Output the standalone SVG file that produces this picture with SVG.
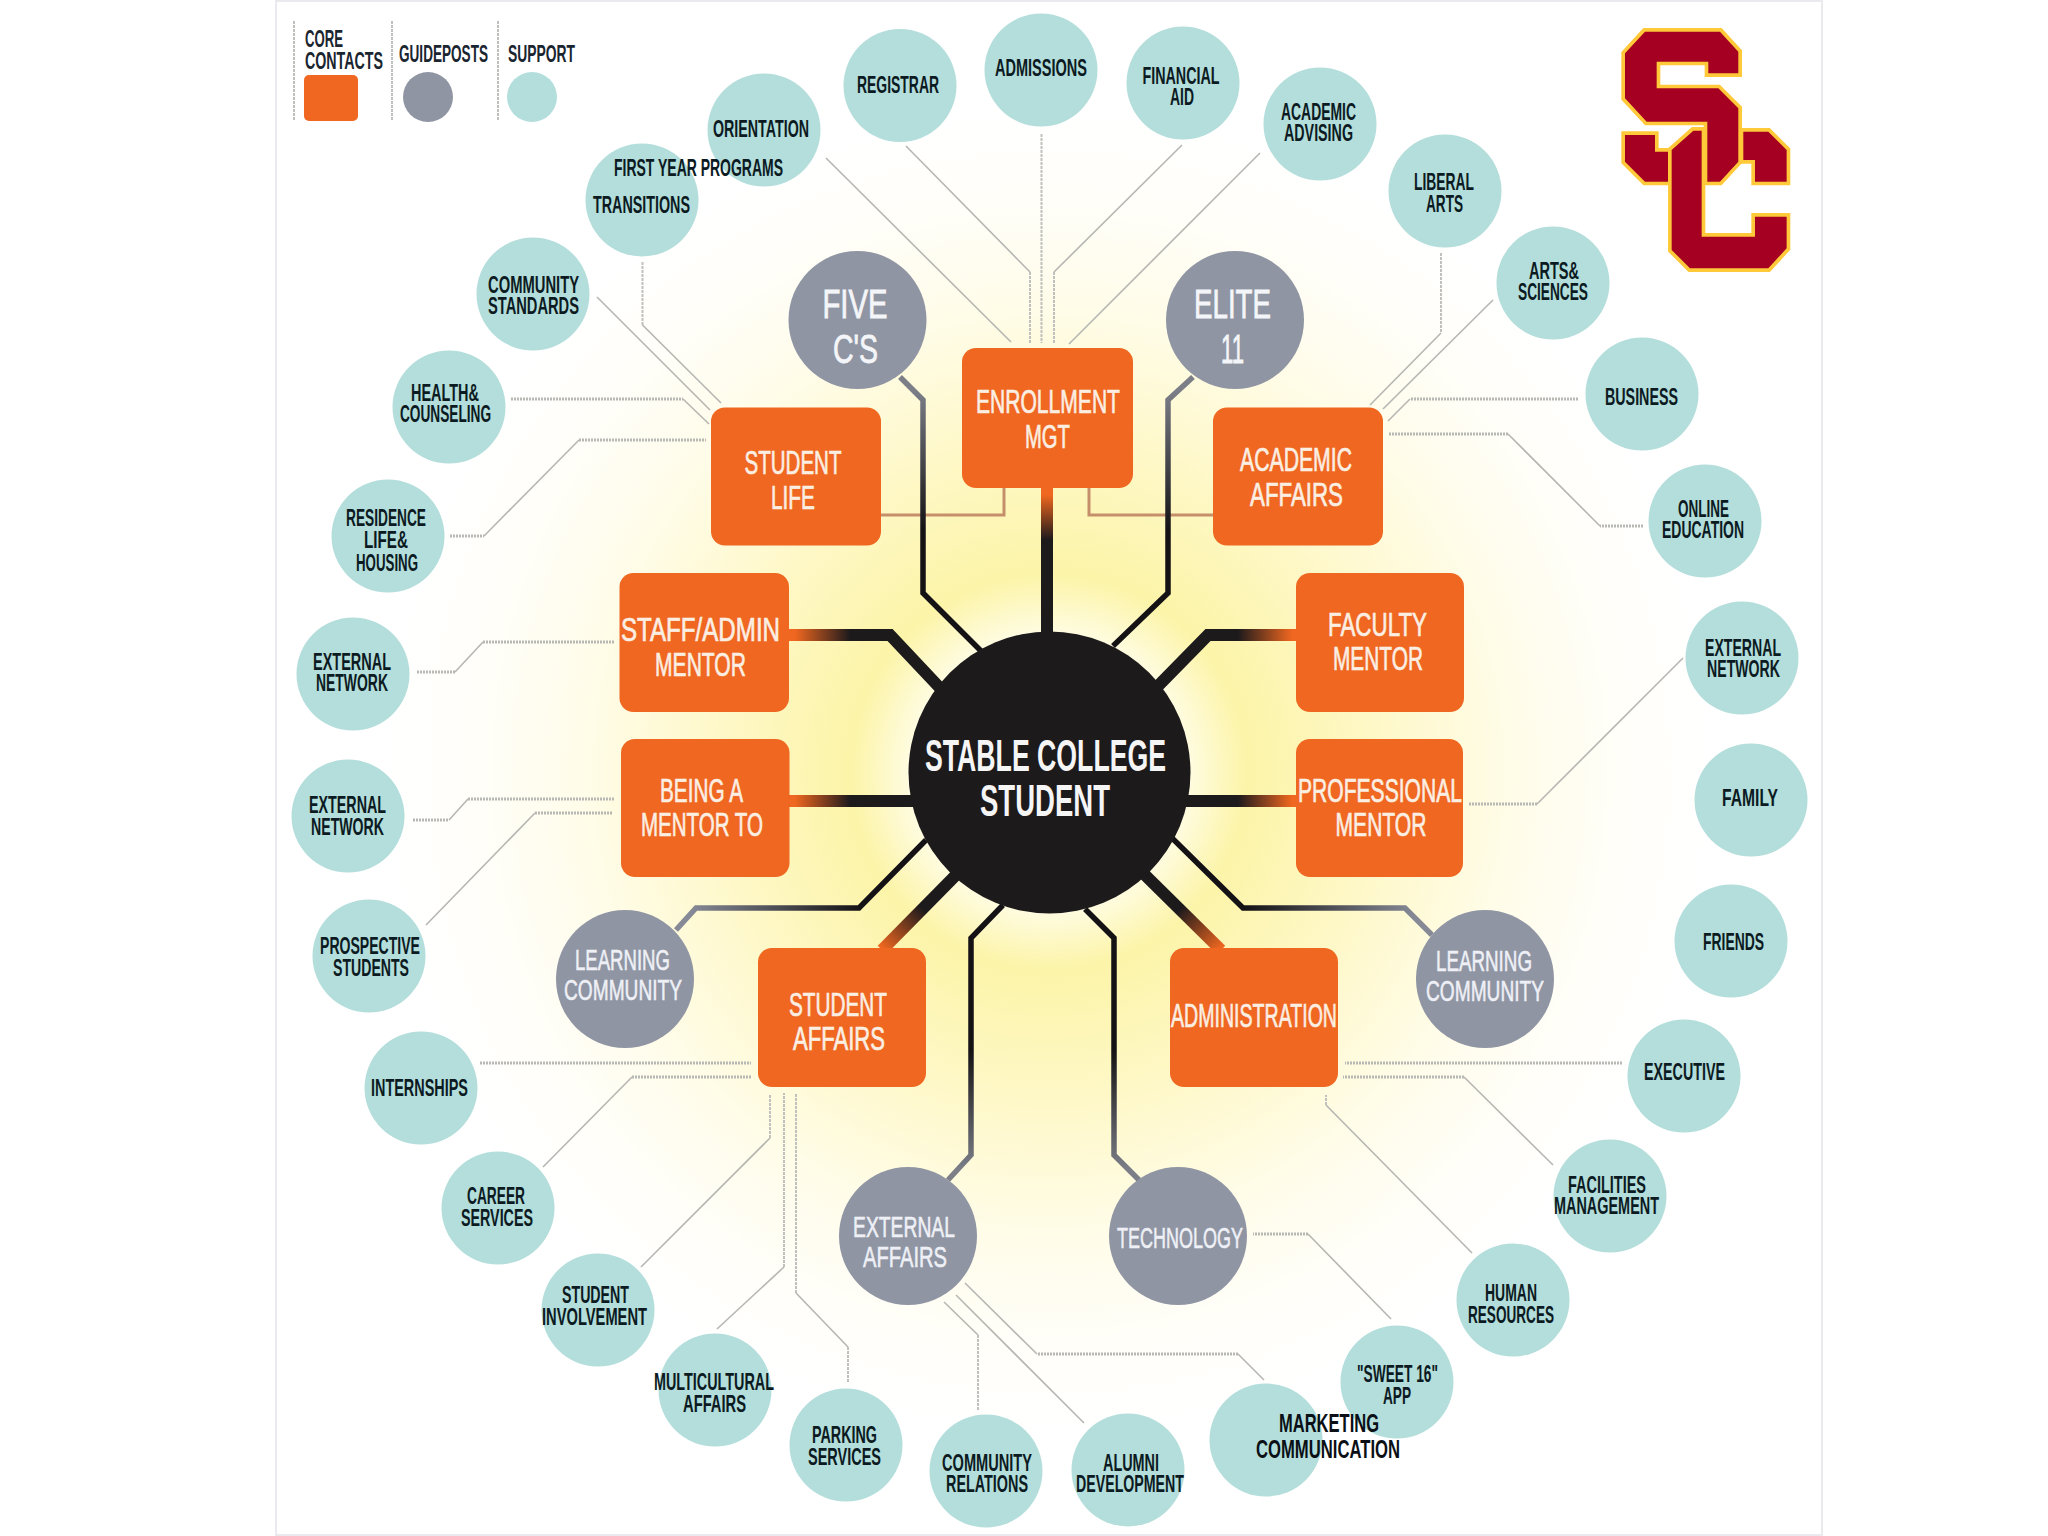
<svg xmlns="http://www.w3.org/2000/svg" width="2048" height="1536" viewBox="0 0 2048 1536">
<style>
text{font-family:"Liberation Sans Narrow","Liberation Sans",Arial,sans-serif;font-weight:700;text-anchor:middle}
.sup{fill:#b3dedb}
.gd{fill:#8f95a3}
.core{fill:#ef6720}
.tt{font-size:23px;fill:#0c1a22}
.tm{font-size:25px;fill:#0a1016}
.tl{font-size:23px;fill:#1a2530;text-anchor:start}
.to{font-size:33px;fill:#fbeee2;font-weight:400;stroke:#fbeee2;stroke-width:.7}
.tg{font-size:30px;fill:#eef0f6;font-weight:400;stroke:#eef0f6;stroke-width:.6}
.tb{font-size:40px;fill:#f4f5f8;font-weight:400;stroke:#f4f5f8;stroke-width:.8}
.tc{font-size:45px;fill:#f5f5f5}
.d{fill:none;stroke:#b6b6b2;stroke-width:1.6;stroke-linejoin:round}
.h{fill:none;stroke:#b8b8b4;stroke-width:3;stroke-dasharray:2 1}
.v{fill:none;stroke:#c0c0bc;stroke-width:2;stroke-dasharray:3 1}
.br{fill:none;stroke:#c58f6c;stroke-width:3}
.w{fill:none;stroke-width:12;stroke-linejoin:miter}
.n{fill:none;stroke-width:5.5;stroke-linejoin:miter}
.logo polygon{fill:#a50021;stroke:#ffc93a;stroke-width:22;paint-order:stroke;stroke-linejoin:miter}
</style>
<defs>
<radialGradient id="glow" gradientUnits="userSpaceOnUse" cx="1049" cy="772" r="660">
<stop offset="0.2" stop-color="#fffde8"/><stop offset="0.3" stop-color="#fcf4a8"/><stop offset="0.5" stop-color="#fef8c8"/><stop offset="0.7" stop-color="#fffce8"/><stop offset="0.86" stop-color="#fffef8"/><stop offset="1" stop-color="#ffffff"/>
</radialGradient>
<linearGradient id="g-en" gradientUnits="userSpaceOnUse" x1="0" y1="495" x2="0" y2="540"><stop offset="0" stop-color="#ef6720"/><stop offset="1" stop-color="#1d1a1c"/></linearGradient>
<linearGradient id="g-l" gradientUnits="userSpaceOnUse" x1="795" y1="0" x2="850" y2="0"><stop offset="0" stop-color="#ef6720"/><stop offset="1" stop-color="#1d1a1c"/></linearGradient>
<linearGradient id="g-r" gradientUnits="userSpaceOnUse" x1="1292" y1="0" x2="1238" y2="0"><stop offset="0" stop-color="#ef6720"/><stop offset="1" stop-color="#1d1a1c"/></linearGradient>
<linearGradient id="g-sa" gradientUnits="userSpaceOnUse" x1="882" y1="948" x2="922" y2="908"><stop offset="0" stop-color="#ef6720"/><stop offset="1" stop-color="#1d1a1c"/></linearGradient>
<linearGradient id="g-ad" gradientUnits="userSpaceOnUse" x1="1221" y1="948" x2="1181" y2="908"><stop offset="0" stop-color="#ef6720"/><stop offset="1" stop-color="#1d1a1c"/></linearGradient>
<linearGradient id="g-top" gradientUnits="userSpaceOnUse" x1="0" y1="390" x2="0" y2="530"><stop offset="0" stop-color="#7c7f88"/><stop offset="1" stop-color="#141214"/></linearGradient>
<linearGradient id="g-ll" gradientUnits="userSpaceOnUse" x1="690" y1="0" x2="860" y2="0"><stop offset="0" stop-color="#868a96"/><stop offset="1" stop-color="#141214"/></linearGradient>
<linearGradient id="g-lr" gradientUnits="userSpaceOnUse" x1="1415" y1="0" x2="1245" y2="0"><stop offset="0" stop-color="#868a96"/><stop offset="1" stop-color="#141214"/></linearGradient>
<linearGradient id="g-bt" gradientUnits="userSpaceOnUse" x1="0" y1="1170" x2="0" y2="1050"><stop offset="0" stop-color="#7c7f88"/><stop offset="1" stop-color="#141214"/></linearGradient>
</defs>
<rect width="2048" height="1536" fill="#fff"/>
<rect x="276" y="1" width="1546" height="1534" fill="url(#glow)" stroke="#e9e9ee" stroke-width="2"/>

<g id="connectors">
<path class="d" d="M826 158L1011 342"/>
<path class="d" d="M906 146L1030 272"/><path class="v" d="M1030 272V343"/>
<path class="v" d="M1041.500 134V343"/>
<path class="d" d="M1182 145L1054 272"/><path class="v" d="M1054 272V343"/>
<path class="d" d="M1260 153L1069 344"/>
<path class="v" d="M1441 253V333"/><path class="d" d="M1441 333L1370 405"/>
<path class="d" d="M1493 300L1383 409"/>
<path class="h" d="M1578 399H1410"/><path class="d" d="M1410 399L1388 421"/>
<path class="h" d="M1643 526H1600"/><path class="d" d="M1600 526L1508 434"/><path class="h" d="M1508 434H1388"/>
<path class="d" d="M1683 658L1537 804"/><path class="h" d="M1537 804H1468"/>
<path class="h" d="M1622 1063H1345"/>
<path class="d" d="M1553 1165L1464 1077"/><path class="h" d="M1464 1077H1343"/>
<path class="d" d="M1472 1253L1326 1105"/><path class="v" d="M1326 1105V1095"/>
<path class="d" d="M1391 1319L1308 1234"/><path class="h" d="M1308 1234H1253"/>
<path class="d" d="M1264 1380L1238 1354"/><path class="h" d="M1238 1354H1037"/><path class="d" d="M1037 1354L965 1283"/>
<path class="d" d="M1084 1423L956 1295"/>
<path class="v" d="M978 1410V1335"/><path class="d" d="M978 1335L944 1302"/>
<path class="v" d="M848 1382V1347"/><path class="d" d="M848 1347L796 1293"/><path class="v" d="M796 1293V1093"/>
<path class="d" d="M717 1329L784 1267"/><path class="v" d="M784 1267V1093"/>
<path class="d" d="M641 1267L770 1138"/><path class="v" d="M770 1138V1095"/>
<path class="d" d="M543 1167L632 1077"/><path class="h" d="M632 1077H751"/>
<path class="h" d="M480 1063H751"/>
<path class="d" d="M426 925L535 813"/><path class="h" d="M535 813H612"/>
<path class="h" d="M413 820H449"/><path class="d" d="M449 820L468 799"/><path class="h" d="M468 799H614"/>
<path class="h" d="M417 672H455"/><path class="d" d="M455 672L483 642"/><path class="h" d="M483 642H614"/>
<path class="h" d="M450 536H484"/><path class="d" d="M484 536L579 440"/><path class="h" d="M579 440H706"/>
<path class="h" d="M511 399H683"/><path class="d" d="M683 399L709 424"/>
<path class="d" d="M597 297L710 410"/>
<path class="v" d="M642.500 262V325"/><path class="d" d="M642.500 325L721 403"/>
<path class="br" d="M881 515H1004V488"/>
<path class="br" d="M1213 515H1089V488"/>
<path class="w" stroke="url(#g-en)" d="M1047 488V640"/>
<path class="w" stroke="url(#g-l)" d="M789 635H890L940 688"/>
<path class="w" stroke="url(#g-l)" d="M789 801H915"/>
<path class="w" stroke="url(#g-r)" d="M1296 635H1208L1158 686"/>
<path class="w" stroke="url(#g-r)" d="M1296 801H1185"/>
<path class="w" stroke="url(#g-sa)" d="M882 950L956 875"/>
<path class="w" stroke="url(#g-ad)" d="M1221 950L1145 875"/>
<path class="n" stroke="url(#g-top)" d="M900 377L923 400V593L982 652"/>
<path class="n" stroke="url(#g-top)" d="M1193 377L1168 400V593L1113 646"/>
<path class="n" stroke="url(#g-ll)" d="M676 930L696 908H859L926 840"/>
<path class="n" stroke="url(#g-lr)" d="M1432 935L1405 908H1243L1172 838"/>
<path class="n" stroke="url(#g-bt)" d="M948 1180L971 1155V938L1003 905"/>
<path class="n" stroke="url(#g-bt)" d="M1139 1180L1114 1155V938L1085 909"/>
</g>

<g id="legend">
<path class="v" d="M294 21V120M392 21V120M498 21V120"/>
<text class="tl" x="305" y="47" textLength="38" lengthAdjust="spacingAndGlyphs">CORE</text>
<text class="tl" x="305" y="69" textLength="78" lengthAdjust="spacingAndGlyphs">CONTACTS</text>
<text class="tl" x="399" y="62" textLength="89" lengthAdjust="spacingAndGlyphs">GUIDEPOSTS</text>
<text class="tl" x="508" y="62" textLength="67" lengthAdjust="spacingAndGlyphs">SUPPORT</text>
<rect class="core" x="304" y="75" width="54" height="46" rx="5"/>
<circle class="gd" cx="428" cy="97" r="25"/>
<circle class="sup" cx="532" cy="97" r="25"/>
</g>

<g id="logo" class="logo" transform="translate(1600 10) scale(.3333)">
<polygon points="75,375 165,375 165,425 205,425 205,515 135,515 75,455"/>
<polygon points="430,365 505,365 560,420 560,515 465,515 465,450 430,450"/>
<polygon points="135,65 360,65 415,125 415,190 325,190 325,155 170,155 170,235 355,235 415,295 415,455 360,515 322,515 322,335 140,335 75,265 75,130"/>
<polygon points="280,362 305,362 305,680 465,680 465,620 560,620 560,715 505,775 270,775 215,720 215,420"/>
</g>

<g id="n-transitions"><circle class="sup" cx="642" cy="200" r="56.500"/></g>
<g id="n-orientation"><circle class="sup" cx="764" cy="130" r="56.500"/>
<text class="tt" x="761" y="137" textLength="96" lengthAdjust="spacingAndGlyphs">ORIENTATION</text></g>
<g id="n-transitions-label">
<text class="tt" x="698.500" y="176" textLength="169" lengthAdjust="spacingAndGlyphs">FIRST YEAR PROGRAMS</text>
<text class="tt" x="641.500" y="213" textLength="97" lengthAdjust="spacingAndGlyphs">TRANSITIONS</text></g>
<g id="n-registrar"><circle class="sup" cx="900" cy="85.500" r="56.500"/>
<text class="tt" x="898" y="93" textLength="82" lengthAdjust="spacingAndGlyphs">REGISTRAR</text></g>
<g id="n-admissions"><circle class="sup" cx="1041" cy="70" r="56.500"/>
<text class="tt" x="1041" y="76" textLength="92" lengthAdjust="spacingAndGlyphs">ADMISSIONS</text></g>
<g id="n-financial"><circle class="sup" cx="1183" cy="83" r="56.500"/>
<text class="tt" x="1181" y="84" textLength="77" lengthAdjust="spacingAndGlyphs">FINANCIAL</text>
<text class="tt" x="1182" y="105" textLength="24" lengthAdjust="spacingAndGlyphs">AID</text></g>
<g id="n-advising"><circle class="sup" cx="1320" cy="124" r="56.500"/>
<text class="tt" x="1318.500" y="120" textLength="75" lengthAdjust="spacingAndGlyphs">ACADEMIC</text>
<text class="tt" x="1318.500" y="141" textLength="69" lengthAdjust="spacingAndGlyphs">ADVISING</text></g>
<g id="n-liberal"><circle class="sup" cx="1445" cy="191" r="56.500"/>
<text class="tt" x="1444" y="190" textLength="60" lengthAdjust="spacingAndGlyphs">LIBERAL</text>
<text class="tt" x="1444.500" y="212" textLength="37" lengthAdjust="spacingAndGlyphs">ARTS</text></g>
<g id="n-arts"><circle class="sup" cx="1553" cy="283" r="56.500"/>
<text class="tt" x="1554" y="279" textLength="50" lengthAdjust="spacingAndGlyphs">ARTS&amp;</text>
<text class="tt" x="1553" y="300" textLength="70" lengthAdjust="spacingAndGlyphs">SCIENCES</text></g>
<g id="n-business"><circle class="sup" cx="1642" cy="394" r="56.500"/>
<text class="tt" x="1641.500" y="405" textLength="73" lengthAdjust="spacingAndGlyphs">BUSINESS</text></g>
<g id="n-online"><circle class="sup" cx="1705" cy="521" r="56.500"/>
<text class="tt" x="1703.500" y="517" textLength="51" lengthAdjust="spacingAndGlyphs">ONLINE</text>
<text class="tt" x="1703" y="538" textLength="82" lengthAdjust="spacingAndGlyphs">EDUCATION</text></g>
<g id="n-ext-right"><circle class="sup" cx="1742" cy="658" r="56.500"/>
<text class="tt" x="1743" y="656" textLength="76" lengthAdjust="spacingAndGlyphs">EXTERNAL</text>
<text class="tt" x="1743.500" y="677" textLength="73" lengthAdjust="spacingAndGlyphs">NETWORK</text></g>
<g id="n-family"><circle class="sup" cx="1751" cy="800" r="56.500"/>
<text class="tt" x="1750" y="806" textLength="56" lengthAdjust="spacingAndGlyphs">FAMILY</text></g>
<g id="n-friends"><circle class="sup" cx="1731" cy="941" r="56.500"/>
<text class="tt" x="1733.500" y="950" textLength="61" lengthAdjust="spacingAndGlyphs">FRIENDS</text></g>
<g id="n-executive"><circle class="sup" cx="1684" cy="1076" r="56.500"/>
<text class="tt" x="1684.500" y="1080" textLength="81" lengthAdjust="spacingAndGlyphs">EXECUTIVE</text></g>
<g id="n-facilities"><circle class="sup" cx="1610" cy="1196" r="56.500"/>
<text class="tt" x="1607" y="1193" textLength="78" lengthAdjust="spacingAndGlyphs">FACILITIES</text>
<text class="tt" x="1606.500" y="1214" textLength="105" lengthAdjust="spacingAndGlyphs">MANAGEMENT</text></g>
<g id="n-hr"><circle class="sup" cx="1513" cy="1300" r="56.500"/>
<text class="tt" x="1511" y="1301" textLength="52" lengthAdjust="spacingAndGlyphs">HUMAN</text>
<text class="tt" x="1511" y="1323" textLength="86" lengthAdjust="spacingAndGlyphs">RESOURCES</text></g>
<g id="n-sweet"><circle class="sup" cx="1397" cy="1382" r="56.500"/>
<text class="tt" x="1397.500" y="1382" textLength="81" lengthAdjust="spacingAndGlyphs">"SWEET 16"</text>
<text class="tt" x="1397" y="1404" textLength="28" lengthAdjust="spacingAndGlyphs">APP</text></g>
<g id="n-marketing"><circle class="sup" cx="1266" cy="1440" r="56.500"/>
<text class="tm" x="1329" y="1432" textLength="100" lengthAdjust="spacingAndGlyphs">MARKETING</text>
<text class="tm" x="1328" y="1458" textLength="144" lengthAdjust="spacingAndGlyphs">COMMUNICATION</text></g>
<g id="n-alumni"><circle class="sup" cx="1128" cy="1470" r="56.500"/>
<text class="tt" x="1131" y="1471" textLength="56" lengthAdjust="spacingAndGlyphs">ALUMNI</text>
<text class="tt" x="1130" y="1492" textLength="108" lengthAdjust="spacingAndGlyphs">DEVELOPMENT</text></g>
<g id="n-relations"><circle class="sup" cx="986" cy="1471" r="56.500"/>
<text class="tt" x="987" y="1471" textLength="90" lengthAdjust="spacingAndGlyphs">COMMUNITY</text>
<text class="tt" x="987" y="1492" textLength="82" lengthAdjust="spacingAndGlyphs">RELATIONS</text></g>
<g id="n-parking"><circle class="sup" cx="846" cy="1445" r="56.500"/>
<text class="tt" x="844.500" y="1443" textLength="65" lengthAdjust="spacingAndGlyphs">PARKING</text>
<text class="tt" x="844.500" y="1465" textLength="73" lengthAdjust="spacingAndGlyphs">SERVICES</text></g>
<g id="n-multicultural"><circle class="sup" cx="715" cy="1390" r="56.500"/>
<text class="tt" x="714" y="1390" textLength="120" lengthAdjust="spacingAndGlyphs">MULTICULTURAL</text>
<text class="tt" x="714.500" y="1412" textLength="63" lengthAdjust="spacingAndGlyphs">AFFAIRS</text></g>
<g id="n-involvement"><circle class="sup" cx="598" cy="1310" r="56.500"/>
<text class="tt" x="595.500" y="1303" textLength="67" lengthAdjust="spacingAndGlyphs">STUDENT</text>
<text class="tt" x="594.500" y="1325" textLength="105" lengthAdjust="spacingAndGlyphs">INVOLVEMENT</text></g>
<g id="n-career"><circle class="sup" cx="498" cy="1208" r="56.500"/>
<text class="tt" x="496" y="1204" textLength="58" lengthAdjust="spacingAndGlyphs">CAREER</text>
<text class="tt" x="497" y="1226" textLength="72" lengthAdjust="spacingAndGlyphs">SERVICES</text></g>
<g id="n-internships"><circle class="sup" cx="421" cy="1088" r="56.500"/>
<text class="tt" x="419.500" y="1096" textLength="97" lengthAdjust="spacingAndGlyphs">INTERNSHIPS</text></g>
<g id="n-prospective"><circle class="sup" cx="369" cy="956" r="56.500"/>
<text class="tt" x="370" y="954" textLength="100" lengthAdjust="spacingAndGlyphs">PROSPECTIVE</text>
<text class="tt" x="371" y="976" textLength="76" lengthAdjust="spacingAndGlyphs">STUDENTS</text></g>
<g id="n-ext-left-2"><circle class="sup" cx="348" cy="816" r="56.500"/>
<text class="tt" x="347.500" y="813" textLength="77" lengthAdjust="spacingAndGlyphs">EXTERNAL</text>
<text class="tt" x="347.500" y="835" textLength="73" lengthAdjust="spacingAndGlyphs">NETWORK</text></g>
<g id="n-ext-left-1"><circle class="sup" cx="353" cy="674" r="56.500"/>
<text class="tt" x="352" y="670" textLength="78" lengthAdjust="spacingAndGlyphs">EXTERNAL</text>
<text class="tt" x="352" y="691" textLength="72" lengthAdjust="spacingAndGlyphs">NETWORK</text></g>
<g id="n-residence"><circle class="sup" cx="388" cy="536" r="56.500"/>
<text class="tt" x="386" y="526" textLength="80" lengthAdjust="spacingAndGlyphs">RESIDENCE</text>
<text class="tt" x="386" y="548" textLength="44" lengthAdjust="spacingAndGlyphs">LIFE&amp;</text>
<text class="tt" x="387" y="571" textLength="62" lengthAdjust="spacingAndGlyphs">HOUSING</text></g>
<g id="n-health"><circle class="sup" cx="449" cy="407" r="56.500"/>
<text class="tt" x="445" y="401" textLength="68" lengthAdjust="spacingAndGlyphs">HEALTH&amp;</text>
<text class="tt" x="445.500" y="422" textLength="91" lengthAdjust="spacingAndGlyphs">COUNSELING</text></g>
<g id="n-standards"><circle class="sup" cx="533" cy="294" r="56.500"/>
<text class="tt" x="533.500" y="293" textLength="91" lengthAdjust="spacingAndGlyphs">COMMUNITY</text>
<text class="tt" x="533.500" y="314" textLength="91" lengthAdjust="spacingAndGlyphs">STANDARDS</text></g>

<g id="n-five"><circle class="gd" cx="857.500" cy="320" r="69"/>
<text class="tb" x="855" y="318" textLength="65" lengthAdjust="spacingAndGlyphs">FIVE</text>
<text class="tb" x="855.500" y="363" textLength="45" lengthAdjust="spacingAndGlyphs">C'S</text></g>
<g id="n-elite"><circle class="gd" cx="1235" cy="320" r="69"/>
<text class="tb" x="1232.500" y="318" textLength="77" lengthAdjust="spacingAndGlyphs">ELITE</text>
<text class="tb" x="1232.500" y="363" textLength="23" lengthAdjust="spacingAndGlyphs">11</text></g>
<g id="n-learning-l"><circle class="gd" cx="625" cy="979" r="69"/>
<text class="tg" x="622.500" y="970" textLength="95" lengthAdjust="spacingAndGlyphs">LEARNING</text>
<text class="tg" x="623" y="1000" textLength="118" lengthAdjust="spacingAndGlyphs">COMMUNITY</text></g>
<g id="n-learning-r"><circle class="gd" cx="1485" cy="979" r="69"/>
<text class="tg" x="1484" y="971" textLength="96" lengthAdjust="spacingAndGlyphs">LEARNING</text>
<text class="tg" x="1485" y="1001" textLength="118" lengthAdjust="spacingAndGlyphs">COMMUNITY</text></g>
<g id="n-external"><circle class="gd" cx="908" cy="1236" r="69"/>
<text class="tg" x="904" y="1237" textLength="102" lengthAdjust="spacingAndGlyphs">EXTERNAL</text>
<text class="tg" x="905" y="1267" textLength="84" lengthAdjust="spacingAndGlyphs">AFFAIRS</text></g>
<g id="n-technology"><circle class="gd" cx="1178" cy="1236" r="69"/>
<text class="tg" x="1180" y="1248" textLength="126" lengthAdjust="spacingAndGlyphs">TECHNOLOGY</text></g>

<g id="n-enrollment"><rect class="core" x="962" y="348" width="171" height="140" rx="14"/>
<text class="to" x="1048" y="413" textLength="144" lengthAdjust="spacingAndGlyphs">ENROLLMENT</text>
<text class="to" x="1047.500" y="448" textLength="45" lengthAdjust="spacingAndGlyphs">MGT</text></g>
<g id="n-student-life"><rect class="core" x="711" y="407.500" width="170" height="138" rx="14"/>
<text class="to" x="793" y="474" textLength="97" lengthAdjust="spacingAndGlyphs">STUDENT</text>
<text class="to" x="793" y="509" textLength="44" lengthAdjust="spacingAndGlyphs">LIFE</text></g>
<g id="n-academic"><rect class="core" x="1213" y="407.500" width="170" height="138" rx="14"/>
<text class="to" x="1296" y="471" textLength="112" lengthAdjust="spacingAndGlyphs">ACADEMIC</text>
<text class="to" x="1296.500" y="506" textLength="93" lengthAdjust="spacingAndGlyphs">AFFAIRS</text></g>
<g id="n-staff"><rect class="core" x="619.500" y="573" width="169.500" height="139" rx="14"/>
<text class="to" x="700.500" y="641" textLength="159" lengthAdjust="spacingAndGlyphs">STAFF/ADMIN</text>
<text class="to" x="700.500" y="676" textLength="91" lengthAdjust="spacingAndGlyphs">MENTOR</text></g>
<g id="n-being"><rect class="core" x="621" y="739" width="168.500" height="138" rx="14"/>
<text class="to" x="701.500" y="802" textLength="83" lengthAdjust="spacingAndGlyphs">BEING A</text>
<text class="to" x="702" y="836" textLength="122" lengthAdjust="spacingAndGlyphs">MENTOR TO</text></g>
<g id="n-faculty"><rect class="core" x="1296" y="573" width="168" height="139" rx="14"/>
<text class="to" x="1377.500" y="636" textLength="99" lengthAdjust="spacingAndGlyphs">FACULTY</text>
<text class="to" x="1378" y="670" textLength="90" lengthAdjust="spacingAndGlyphs">MENTOR</text></g>
<g id="n-professional"><rect class="core" x="1296" y="739" width="167" height="138" rx="14"/>
<text class="to" x="1380" y="802" textLength="164" lengthAdjust="spacingAndGlyphs">PROFESSIONAL</text>
<text class="to" x="1381" y="836" textLength="91" lengthAdjust="spacingAndGlyphs">MENTOR</text></g>
<g id="n-student-affairs"><rect class="core" x="758" y="948" width="168" height="139" rx="14"/>
<text class="to" x="838" y="1016" textLength="98" lengthAdjust="spacingAndGlyphs">STUDENT</text>
<text class="to" x="839" y="1050" textLength="92" lengthAdjust="spacingAndGlyphs">AFFAIRS</text></g>
<g id="n-administration"><rect class="core" x="1170" y="948" width="168" height="139" rx="14"/>
<text class="to" x="1254" y="1027" textLength="166" lengthAdjust="spacingAndGlyphs">ADMINISTRATION</text></g>

<g id="n-center"><circle cx="1049.500" cy="772.500" r="141" fill="#1d1a1c"/>
<text class="tc" x="1045.500" y="771" textLength="241" lengthAdjust="spacingAndGlyphs">STABLE COLLEGE</text>
<text class="tc" x="1045" y="816" textLength="130" lengthAdjust="spacingAndGlyphs">STUDENT</text></g>
</svg>
